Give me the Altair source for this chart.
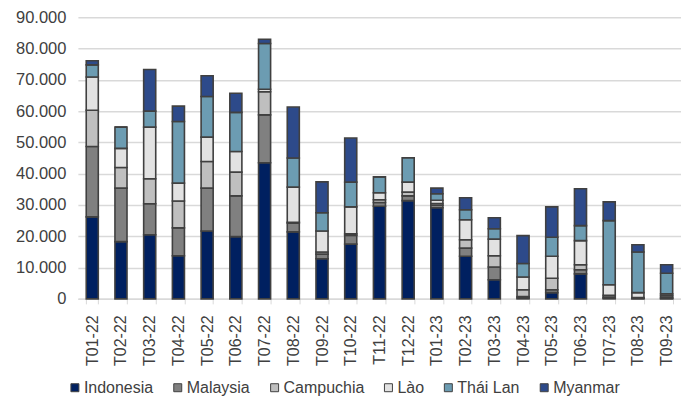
import altair as alt
import pandas as pd

months = ["T01-22", "T02-22", "T03-22", "T04-22", "T05-22", "T06-22", "T07-22",
          "T08-22", "T09-22", "T10-22", "T11-22", "T12-22", "T01-23", "T02-23",
          "T03-23", "T04-23", "T05-23", "T06-23", "T07-23", "T08-23", "T09-23"]

countries = ["Indonesia", "Malaysia", "Campuchia", "Lào", "Thái Lan", "Myanmar"]
colors = ["#002060", "#808080", "#BFBFBF", "#E2E2E2", "#6C9CB2", "#2D4A8A"]

indonesia = [26.2, 18.3, 20.5, 13.8, 21.7, 19.9, 43.5, 21.4, 12.8, 17.5, 29.6, 31.4, 29.1, 13.6, 6.1, 0.3, 2.0, 8.0, 0.2, 0.1, 0.1]
malaysia  = [22.5, 17.1, 9.9, 8.9, 13.7, 13.0, 15.3, 2.8, 1.5, 2.8, 1.2, 1.5, 0.8, 2.6, 4.1, 0.4, 0.9, 1.3, 0.3, 0.1, 0.3]
campuchia = [11.6, 6.6, 8.0, 8.6, 8.5, 7.6, 7.4, 0.3, 0.7, 0.5, 0.9, 1.2, 0.6, 2.7, 3.6, 2.2, 3.7, 1.6, 0.6, 0.2, 0.6]
lao       = [10.6, 6.1, 16.5, 5.7, 7.8, 6.6, 0.8, 11.2, 6.7, 8.6, 2.2, 3.2, 1.0, 6.4, 5.3, 4.1, 7.0, 7.7, 3.4, 1.6, 0.6]
thai      = [3.9, 6.8, 5.1, 19.7, 13.0, 12.5, 14.6, 9.3, 5.8, 7.9, 5.1, 7.8, 2.1, 3.2, 3.3, 4.3, 6.1, 4.8, 20.5, 13.0, 6.6]
myanmar   = [1.3, 0.0, 13.3, 4.9, 6.6, 6.1, 1.4, 16.3, 9.9, 14.1, 0.0, 0.0, 1.8, 3.8, 3.5, 8.9, 9.7, 11.8, 6.0, 2.3, 2.7]

series = [indonesia, malaysia, campuchia, lao, thai, myanmar]
rows = []
for ci, (name, vals) in enumerate(zip(countries, series)):
    for m, v in zip(months, vals):
        rows.append({"month": m, "country": name, "value": v * 1000, "order": ci})
df = pd.DataFrame(rows)

chart = alt.Chart(df).mark_bar(stroke="#404040", strokeWidth=1.6).encode(
    x=alt.X("month:N", sort=months, title=None,
            scale=alt.Scale(paddingInner=0.58, paddingOuter=0.29),
            axis=alt.Axis(labelAngle=-90, tickBand="extent", tickSize=5,
                          tickColor="#D9D9D9", domainColor="#D9D9D9", domainWidth=1.5,
                          labelPadding=11, labelFontSize=16, labelColor="#404040",
                          labelFont="Liberation Sans", grid=False)),
    y=alt.Y("value:Q", stack="zero", title=None,
            scale=alt.Scale(domain=[0, 90000], nice=False),
            axis=alt.Axis(values=list(range(0, 90001, 10000)),
                          labelExpr="replace(format(datum.value, ','), ',', '.')",
                          domain=False, ticks=False, labelPadding=12,
                          labelFontSize=16.5, labelColor="#404040",
                          labelFont="Liberation Sans",
                          gridColor="#D9D9D9", gridWidth=1.5)),
    color=alt.Color("country:N", sort=countries,
                    scale=alt.Scale(domain=countries, range=colors),
                    legend=alt.Legend(title=None, orient="none", direction="horizontal",
                                      legendX=-11, legendY=363, padding=0,
                                      symbolType="square", symbolSize=64,
                                      symbolStrokeColor="#404040", symbolStrokeWidth=1,
                                      labelFontSize=16, labelColor="#404040",
                                      labelFont="Liberation Sans", labelOffset=1,
                                      columnPadding=16)),
    order=alt.Order("order:Q", sort="ascending"),
).properties(
    width=604, height=282,
    autosize=alt.AutoSizeParams(type="none"),
    padding={"left": 70, "top": 9, "right": 0, "bottom": 97},
).configure_view(stroke=None)

chart.save("out.html", embed_options={"renderer": "svg", "actions": False})
